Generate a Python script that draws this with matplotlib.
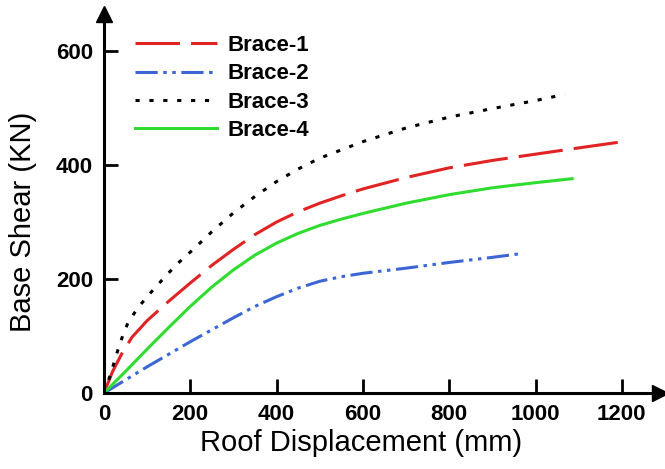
import matplotlib
matplotlib.use('Agg')
from matplotlib import pyplot as plt

# curves: roof displacement (mm) vs base shear (KN)
disp1 = [0, 20, 42, 65, 100, 150, 200, 250, 300, 350, 400, 450, 500, 562, 600, 700, 800, 900, 1000, 1100, 1203]
shear1 = [0, 38, 70, 98, 127, 161, 193, 224, 252, 278, 300, 318, 333, 349, 358, 378, 395, 408, 419, 430, 441]

disp2 = [0, 50, 100, 150, 200, 250, 300, 350, 400, 450, 500, 550, 600, 700, 800, 900, 971]
shear2 = [0, 23, 46, 68, 90, 111, 132, 152, 169, 184, 196, 204, 210, 219, 229, 238, 245]

disp3 = [0, 14, 32, 44, 56, 79, 107, 139, 169, 204, 250, 300, 350, 400, 450, 500, 600, 700, 800, 900, 1000, 1068]
shear3 = [0, 30, 75, 102, 124, 150, 175, 202, 226, 250, 283, 316, 345, 371, 393, 412, 441, 465, 484, 499, 513, 524]

disp4 = [0, 50, 100, 150, 200, 250, 300, 350, 400, 450, 500, 550, 600, 700, 800, 900, 1000, 1085]
shear4 = [0, 38, 77, 115, 152, 186, 216, 242, 263, 280, 294, 305, 315, 333, 348, 360, 369, 376]

labels = ['Brace-1', 'Brace-2', 'Brace-3', 'Brace-4']
xticks = [0, 200, 400, 600, 800, 1000, 1200]
yticks = [0, 200, 400, 600]

plt.rcParams['font.family'] = ['Liberation Sans', 'DejaVu Sans']
plt.rcParams['lines.scale_dashes'] = False

fig = plt.figure(figsize=(6.65, 4.69), dpi=100)
ax = fig.add_axes([104 / 665, 76 / 469, 556 / 665, 383 / 469])

lw = 2.2
ax.plot(disp1, shear1, color='#e02424', lw=lw, linestyle=(0, (32, 8)), label=labels[0])
ax.plot(disp2, shear2, color='#3b66d4', lw=lw, linestyle=(0, (16, 4, 2.5, 4, 2.5, 4)), label=labels[1])
ax.plot(disp3, shear3, color='black', lw=lw, linestyle=(0, (3, 7)), label=labels[2])
ax.plot(disp4, shear4, color='#2fdc2f', lw=lw, label=labels[3])

ax.set_xlim(0, 556 / 0.4315)
ax.set_ylim(0, 383 / 0.57)
ax.set_xticks(xticks)
ax.set_yticks(yticks)
ax.tick_params(direction='in', length=10, width=2, pad=8, labelsize=16)
for t in ax.get_xticklabels() + ax.get_yticklabels():
    t.set_fontweight('bold')

for s in ['top', 'right']:
    ax.spines[s].set_visible(False)
for s in ['left', 'bottom']:
    ax.spines[s].set_linewidth(2.2)

# arrow heads on the axes
ax.plot(1, 0, '>', color='black', markersize=12, transform=ax.transAxes, clip_on=False)
ax.plot(0, 0.99, '^', color='black', markersize=11, transform=ax.transAxes, clip_on=False)

ax.set_xlabel('Roof Displacement (mm)', fontsize=21)
ax.set_ylabel('Base Shear (KN)', fontsize=21)
ax.xaxis.set_label_coords(0.462, -0.095)
ax.yaxis.set_label_coords(-0.12, 0.446)

leg = ax.legend(loc='upper left', bbox_to_anchor=(135 / 665, 1 - 35 / 469),
                bbox_transform=fig.transFigure, frameon=False, borderpad=0,
                borderaxespad=0, handlelength=3.7, handletextpad=0.45,
                labelspacing=0.33, prop={'size': 16, 'weight': 'bold'})

fig.savefig('out.png', dpi=100)
